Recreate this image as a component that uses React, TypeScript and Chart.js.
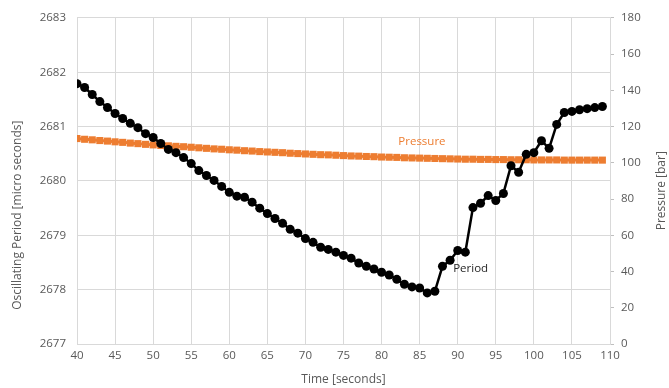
import React, { useEffect, useRef } from "react";
import { Chart, registerables } from "chart.js";

Chart.register(...registerables);

const times = [
  40, 41, 42, 43, 44, 45, 46, 47, 48, 49,
  50, 51, 52, 53, 54, 55, 56, 57, 58, 59,
  60, 61, 62, 63, 64, 65, 66, 67, 68, 69,
  70, 71, 72, 73, 74, 75, 76, 77, 78, 79,
  80, 81, 82, 83, 84, 85, 86, 87, 88, 89,
  90, 91, 92, 93, 94, 95, 96, 97, 98, 99,
  100, 101, 102, 103, 104, 105, 106, 107, 108, 109,
];

const period = [
  2681.79, 2681.72, 2681.59, 2681.46, 2681.35, 2681.24, 2681.15, 2681.06, 2680.98, 2680.87,
  2680.8, 2680.69, 2680.58, 2680.52, 2680.43, 2680.32, 2680.19, 2680.1, 2680.01, 2679.9,
  2679.79, 2679.72, 2679.7, 2679.61, 2679.5, 2679.4, 2679.31, 2679.22, 2679.11, 2679.04,
  2678.94, 2678.87, 2678.78, 2678.74, 2678.69, 2678.63, 2678.58, 2678.49, 2678.43, 2678.38,
  2678.32, 2678.27, 2678.19, 2678.1, 2678.05, 2678.03, 2677.94, 2677.97, 2678.43, 2678.54,
  2678.72, 2678.69, 2679.51, 2679.59, 2679.73, 2679.64, 2679.77, 2680.28, 2680.16, 2680.49,
  2680.52, 2680.74, 2680.6, 2681.04, 2681.26, 2681.28, 2681.31, 2681.33, 2681.35, 2681.37,
];

const pressure = [
  113.4, 113.0, 112.7, 112.3, 112.0, 111.6, 111.3, 110.9, 110.6, 110.2,
  109.9, 109.6, 109.4, 109.1, 108.9, 108.6, 108.3, 108.0, 107.7, 107.5,
  107.2, 107.0, 106.7, 106.5, 106.2, 106.0, 105.8, 105.6, 105.3, 105.1,
  104.9, 104.7, 104.5, 104.4, 104.2, 104.0, 103.8, 103.7, 103.5, 103.4,
  103.2, 103.1, 103.0, 102.8, 102.7, 102.6, 102.5, 102.4, 102.3, 102.2,
  102.1, 102.0, 102.0, 101.9, 101.9, 101.8, 101.8, 101.7, 101.7, 101.7,
  101.6, 101.6, 101.6, 101.6, 101.5, 101.5, 101.5, 101.5, 101.5, 101.5,
];

const xTicks = { min: 40, max: 110, step: 5 };
const periodTicks = { min: 2677, max: 2683, step: 1 };
const pressureTicks = { min: 0, max: 180, step: 20 };

// data-space positions of the series labels [time, value]
const pressureLabelAt = [85.3, 111.8];
const periodLabelAt = [91.7, 2678.39];

const ORANGE = "#ED7D31";
const TEXT = "#595959";
const GRID = "#D9D9D9";
const FONT = '"Open Sans", sans-serif';

const labelsPlugin = {
  id: "seriesLabels",
  afterDatasetsDraw(chart: any) {
    const { ctx, chartArea, scales } = chart;
    ctx.save();
    ctx.textAlign = "center";
    ctx.textBaseline = "middle";
    ctx.font = `11.5px ${FONT}`;
    ctx.fillStyle = ORANGE;
    ctx.fillText(
      "Pressure",
      scales.x.getPixelForValue(pressureLabelAt[0]),
      scales.y1.getPixelForValue(pressureLabelAt[1])
    );
    ctx.fillStyle = "#262626";
    ctx.fillText(
      "Period",
      scales.x.getPixelForValue(periodLabelAt[0]),
      scales.y.getPixelForValue(periodLabelAt[1])
    );
    // vertical axis titles (both read bottom-to-top)
    ctx.font = `12px ${FONT}`;
    ctx.fillStyle = TEXT;
    ctx.save();
    ctx.translate(18, chartArea.top + chartArea.height * 0.605);
    ctx.rotate(-Math.PI / 2);
    ctx.fillText("Oscillating Period [micro seconds]", 0, 0);
    ctx.restore();
    ctx.save();
    ctx.translate(662, chartArea.top + chartArea.height * 0.53);
    ctx.rotate(-Math.PI / 2);
    ctx.fillText("Pressure [bar]", 0, 0);
    ctx.restore();
    ctx.restore();
  },
};

export default function App() {
  const ref = useRef<HTMLCanvasElement>(null);

  useEffect(() => {
    if (!ref.current) return;
    const chart = new Chart(ref.current, {
      type: "line",
      data: {
        datasets: [
          {
            label: "Period",
            data: times.map((t, i) => ({ x: t, y: period[i] })),
            yAxisID: "y",
            borderColor: "#000000",
            backgroundColor: "#000000",
            borderWidth: 2.5,
            pointStyle: "circle",
            pointRadius: 4.5,
            pointBorderWidth: 0,
            tension: 0,
          },
          {
            label: "Pressure",
            data: times.map((t, i) => ({ x: t, y: pressure[i] })),
            yAxisID: "y1",
            borderColor: ORANGE,
            backgroundColor: ORANGE,
            borderWidth: 3,
            pointStyle: "rect",
            pointRadius: 5,
            pointBorderWidth: 0,
            tension: 0,
          },
        ],
      },
      options: {
        animation: false,
        responsive: false,
        maintainAspectRatio: false,
        events: [],
        layout: { padding: { top: 17, left: 0, right: 0, bottom: 0 } },
        plugins: {
          legend: { display: false },
          tooltip: { enabled: false },
        },
        scales: {
          x: {
            type: "linear",
            min: xTicks.min,
            max: xTicks.max,
            afterFit: (s: any) => {
              s.height = 44;
            },
            ticks: {
              stepSize: xTicks.step,
              color: TEXT,
              font: { family: FONT, size: 11.5 },
              padding: 5,
              maxRotation: 0,
              callback: (v: any) => String(v),
            },
            grid: { color: GRID, drawTicks: false, lineWidth: 1 },
            border: { color: GRID },
            title: {
              display: true,
              text: "Time [seconds]",
              color: TEXT,
              font: { family: FONT, size: 12 },
              padding: { top: 0, bottom: 1 },
            },
          },
          y: {
            type: "linear",
            position: "left",
            min: periodTicks.min,
            max: periodTicks.max,
            afterFit: (s: any) => {
              s.width = 77;
            },
            ticks: {
              stepSize: periodTicks.step,
              color: TEXT,
              font: { family: FONT, size: 11.5 },
              padding: 11,
              callback: (v: any) => String(v),
            },
            grid: { color: GRID, drawTicks: false, lineWidth: 1 },
            border: { color: GRID },
          },
          y1: {
            type: "linear",
            position: "right",
            min: pressureTicks.min,
            max: pressureTicks.max,
            afterFit: (s: any) => {
              s.width = 59;
            },
            ticks: {
              stepSize: pressureTicks.step,
              color: TEXT,
              font: { family: FONT, size: 11.5 },
              padding: 7,
              callback: (v: any) => String(v),
            },
            grid: {
              drawOnChartArea: false,
              color: "#BFBFBF",
              drawTicks: true,
              tickLength: 4,
            },
            border: { color: GRID },
          },
        },
      },
      plugins: [labelsPlugin],
    });
    return () => chart.destroy();
  }, []);

  return (
    <div style={{ position: "absolute", left: 0, top: 0, width: 669, height: 388, background: "#fff" }}>
      <canvas ref={ref} width={669} height={388} style={{ width: 669, height: 388, display: "block" }} />
    </div>
  );
}
